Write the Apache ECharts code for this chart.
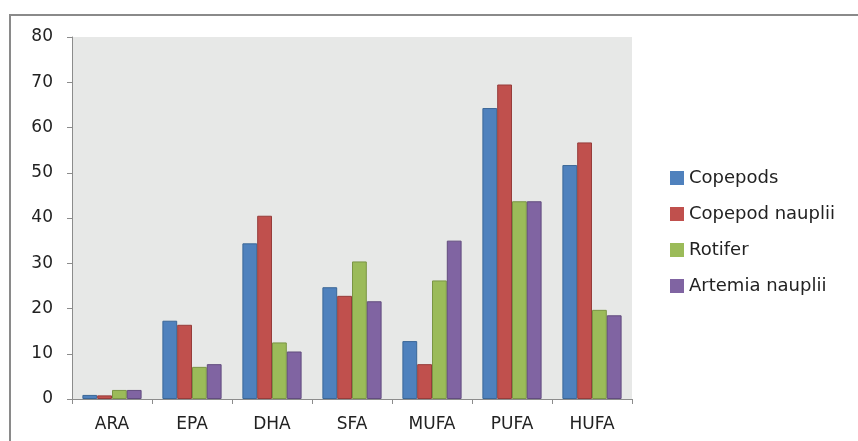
<!DOCTYPE html>
<html>
<head>
<meta charset="utf-8">
<title>Fatty acid composition of live prey</title>
<script src="https://cdn.jsdelivr.net/npm/echarts@6/dist/echarts.min.js"></script>
<style>
  html, body { margin: 0; padding: 0; background: #ffffff; }
  #chart { width: 858px; height: 441px; }
</style>
</head>
<body>
<div id="chart"></div>
<script>
// Fatty acid classes on the x axis
const categories = ['ARA', 'EPA', 'DHA', 'SFA', 'MUFA', 'PUFA', 'HUFA'];

// Values per prey type
const copepods        = [0.9, 17.3, 34.4, 24.7, 12.8, 64.3, 51.7];
const copepodNauplii  = [0.8, 16.4, 40.5, 22.8, 7.7, 69.5, 56.7];
const rotifer         = [2.0, 7.1, 12.5, 30.4, 26.2, 43.7, 19.7];
const artemiaNauplii  = [2.0, 7.7, 10.5, 21.6, 35.0, 43.7, 18.5];

// Y axis range
const yMin = 0;
const yMax = 80;
const yStep = 10;

const seriesDefs = [
  { name: 'Copepods',        data: copepods,       color: '#4f81bd', border: '#3b6797' },
  { name: 'Copepod nauplii', data: copepodNauplii, color: '#c0504d', border: '#963c3a' },
  { name: 'Rotifer',         data: rotifer,        color: '#9bbb59', border: '#7a9544' },
  { name: 'Artemia nauplii', data: artemiaNauplii, color: '#8064a2', border: '#624c7e' }
];

const font = 'DejaVu Sans';
const chart = echarts.init(document.getElementById('chart'), null, { renderer: 'canvas' });

chart.setOption({
  animation: false,
  backgroundColor: '#ffffff',
  graphic: [{
    type: 'rect',
    shape: { x: 10, y: 15, width: 900, height: 500 },
    style: { fill: 'none', stroke: '#8a8a8a', lineWidth: 2 },
    silent: true,
    z: 100
  }],
  grid: {
    left: 72, right: 226, top: 37, bottom: 42,
    show: true, backgroundColor: '#e7e8e7', borderWidth: 0
  },
  legend: {
    orient: 'vertical',
    left: 670,
    top: 169,
    padding: 0,
    itemWidth: 14,
    itemHeight: 14,
    itemGap: 18,
    icon: 'rect',
    itemStyle: { borderWidth: 0 },
    textStyle: { fontFamily: font, fontSize: 18, color: '#222222' },
    data: seriesDefs.map(s => s.name)
  },
  xAxis: {
    type: 'category',
    data: categories,
    boundaryGap: true,
    axisLine: { show: true, lineStyle: { color: '#8c8c8c', width: 1 } },
    axisTick: { show: true, length: 5, lineStyle: { color: '#8c8c8c' } },
    axisLabel: { fontFamily: font, fontSize: 17, color: '#222222', margin: 17 },
    splitLine: { show: false }
  },
  yAxis: {
    type: 'value',
    min: yMin, max: yMax, interval: yStep,
    axisLine: { show: true, lineStyle: { color: '#8c8c8c', width: 1 } },
    axisTick: { show: true, length: 5, lineStyle: { color: '#8c8c8c' } },
    axisLabel: { fontFamily: font, fontSize: 17, color: '#222222', margin: 19 },
    splitLine: { show: false }
  },
  series: seriesDefs.map(s => ({
    name: s.name,
    type: 'bar',
    data: s.data,
    barGap: '0%',
    barCategoryGap: '26%',
    itemStyle: { color: s.color, borderColor: s.border, borderWidth: 1 }
  }))
});
</script>
</body>
</html>
